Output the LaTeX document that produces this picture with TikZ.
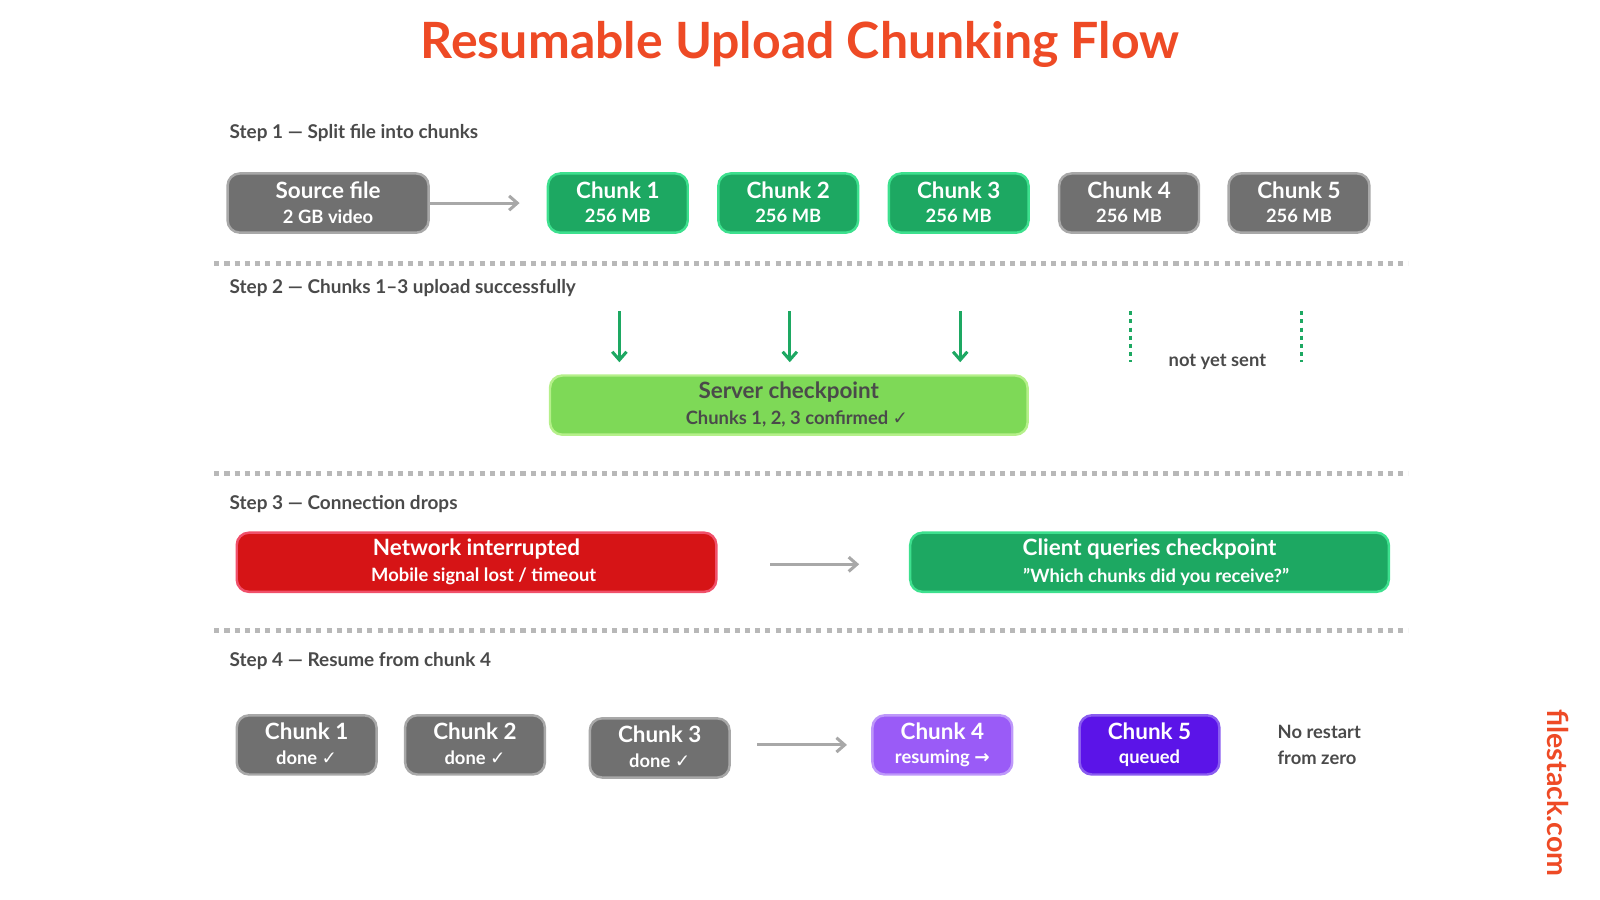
\documentclass[tikz,border=0pt]{standalone}
\usepackage{fontspec}
\setmainfont{Lato}
\newfontfamily\djv{DejaVu Sans}
\usetikzlibrary{arrows.meta}
\definecolor{ttl}{HTML}{EE4A25}
\definecolor{gbox}{HTML}{707070}
\definecolor{gedge}{HTML}{A8A8A8}
\definecolor{grn}{HTML}{1DA862}
\definecolor{grnedge}{HTML}{3DE08E}
\definecolor{lgrn}{HTML}{7ED957}
\definecolor{lgrnedge}{HTML}{B5F08A}
\definecolor{red1}{HTML}{D61416}
\definecolor{red1e}{HTML}{F0506A}
\definecolor{pur}{HTML}{9A5BF7}
\definecolor{pure}{HTML}{BE98FA}
\definecolor{dpur}{HTML}{5B14E8}
\definecolor{dpure}{HTML}{8A5CF0}
\definecolor{txt}{HTML}{4A4A4A}
\definecolor{dline}{HTML}{B8B8B8}
\newcommand{\ck}{{\djv\bfseries\char"2713}}
\newcommand{\ra}{{\djv\bfseries\char"2192}}
\newcommand{\dq}{{\char"22}}
\begin{document}
\begin{tikzpicture}[x=0.5pt,y=-0.5pt,
 box/.style={draw=#1,line width=1.2pt,rounded corners=6pt,inner sep=0pt},
 btxt/.style={text=white,font=\bfseries\fontsize{11}{11}\selectfont,align=center},
 stxt/.style={font=\bfseries\fontsize{9}{11}\selectfont,align=center},
 stp/.style={anchor=west,text=txt,font=\bfseries\fontsize{9.3}{10}\selectfont},
 garr/.style={draw=gedge,line width=1.5pt,-{Straight Barb[length=4pt,width=7pt]}},
 grarr/.style={draw=grn,line width=1.5pt,-{Straight Barb[length=4pt,width=7pt]}},
 sep/.style={draw=dline,line width=2.5pt,dash pattern=on 2.5pt off 2.5pt},
 vdot/.style={draw=grn,line width=1.5pt,dash pattern=on 2pt off 2pt}]
\useasboundingbox (0,0) rectangle (1568,882);
\node[text=ttl,font=\bfseries\fontsize{24.5}{24}\selectfont] (title) at (784,44) {Resumable Upload Chunking Flow};
\newcommand{\tb}[9]{%
 \node[box=#6,fill=#5,minimum width={(#3-#1)*0.5pt},minimum height={(#4-#2)*0.5pt}] (#7) at ({(#1+#3)/2},{(#2+#4)/2}) {};
 \node[btxt,text=#9] (#7t) at ({(#1+#3)/2},{#2+16}) {#8};
}
% step 1
\node[stp] (s1) at (218,130) {Step 1 — Split file into chunks};
\tb{223}{170}{420}{228}{gbox}{gedge}{src}{Source file}{white}
\node[stxt,text=white] (srcs) at (321.5,212) {2 GB video};
\tb{537}{170}{674}{228}{grn}{grnedge}{c1}{Chunk 1}{white}
\tb{704}{170}{841}{228}{grn}{grnedge}{c2}{Chunk 2}{white}
\tb{871}{170}{1008}{228}{grn}{grnedge}{c3}{Chunk 3}{white}
\tb{1038}{170}{1175}{228}{gbox}{gedge}{c4}{Chunk 4}{white}
\tb{1204}{170}{1342}{228}{gbox}{gedge}{c5}{Chunk 5}{white}
\foreach \n/\x in {c1/605.5,c2/772.5,c3/939.5,c4/1106.5,c5/1273} \node[stxt,text=white] (\n s) at (\x,212) {256 MB};
\draw[garr] (src.east) -- ++(88,0) coordinate (a1e);
\draw[sep] (210,258) -- (1380,258);
% step 2
\node[stp] (s2) at (218,282) {Step 2 — Chunks 1–3 upload successfully};
\tb{539}{368}{1007}{426}{lgrn}{lgrnedge}{srv}{Server checkpoint}{txt}
\node[stxt,text=txt] (srvs) at (781,411) {Chunks 1, 2, 3 confirmed \ck};
\coordinate (d1) at (607,305); \coordinate (d2) at (774,305); \coordinate (d3) at (941,305);
\foreach \d in {d1,d2,d3} \draw[grarr] (\d) -- ++(0,50);
\coordinate (v4) at (1108,305); \coordinate (v5) at (1275,305);
\foreach \d in {v4,v5} \draw[vdot] (\d) -- ++(0,50);
\node[stxt,text=txt] (nys) at (1193,355) {not yet sent};
\draw[sep] (210,464) -- (1380,464);
% step 3
\node[stp] (s3) at (218,494) {Step 3 — Connection drops};
\tb{232}{522}{702}{580}{red1}{red1e}{net}{Network interrupted}{white}
\node[stxt,text=white] (nets) at (474,565) {Mobile signal lost / timeout};
\tb{892}{522}{1361}{580}{grn}{grnedge}{cli}{Client queries checkpoint}{white}
\node[stxt,text=white] (clis) at (1133,565) {\dq Which chunks did you receive?\dq};
\coordinate (a3s) at (755,553);
\draw[garr] (a3s) -- (842,553);
\draw[sep] (210,618) -- (1380,618);
% step 4
\node[stp] (s4) at (218,648) {Step 4 — Resume from chunk 4};
\tb{232}{701}{369}{759}{gbox}{gedge}{r1}{Chunk 1}{white}
\tb{397}{701}{534}{759}{gbox}{gedge}{r2}{Chunk 2}{white}
\tb{578}{704}{715}{762}{gbox}{gedge}{r3}{Chunk 3}{white}
\tb{855}{701}{992}{759}{pur}{pure}{r4}{Chunk 4}{white}
\tb{1058}{701}{1195}{759}{dpur}{dpure}{r5}{Chunk 5}{white}
\node[stxt,text=white] (r1s) at (300.5,743) {done \ck};
\node[stxt,text=white] (r2s) at (465.5,743) {done \ck};
\node[stxt,text=white] (r3s) at (646.5,746) {done \ck};
\node[stxt,text=white] (r4s) at (923.5,743) {resuming \ra};
\node[stxt,text=white] (r5s) at (1126.5,743) {queued};
\coordinate (a4s) at (742,730);
\draw[garr] (a4s) -- (830,730);
\node[stxt,text=txt,align=left,anchor=west,font=\bfseries\fontsize{9}{12.5}\selectfont] (nr) at (1245,730) {No restart\\from zero};
\node[text=ttl,font=\bfseries\fontsize{14}{14}\selectfont,rotate=-90] (brand) at (1527,777) {filestack.com};
\end{tikzpicture}
\end{document}
